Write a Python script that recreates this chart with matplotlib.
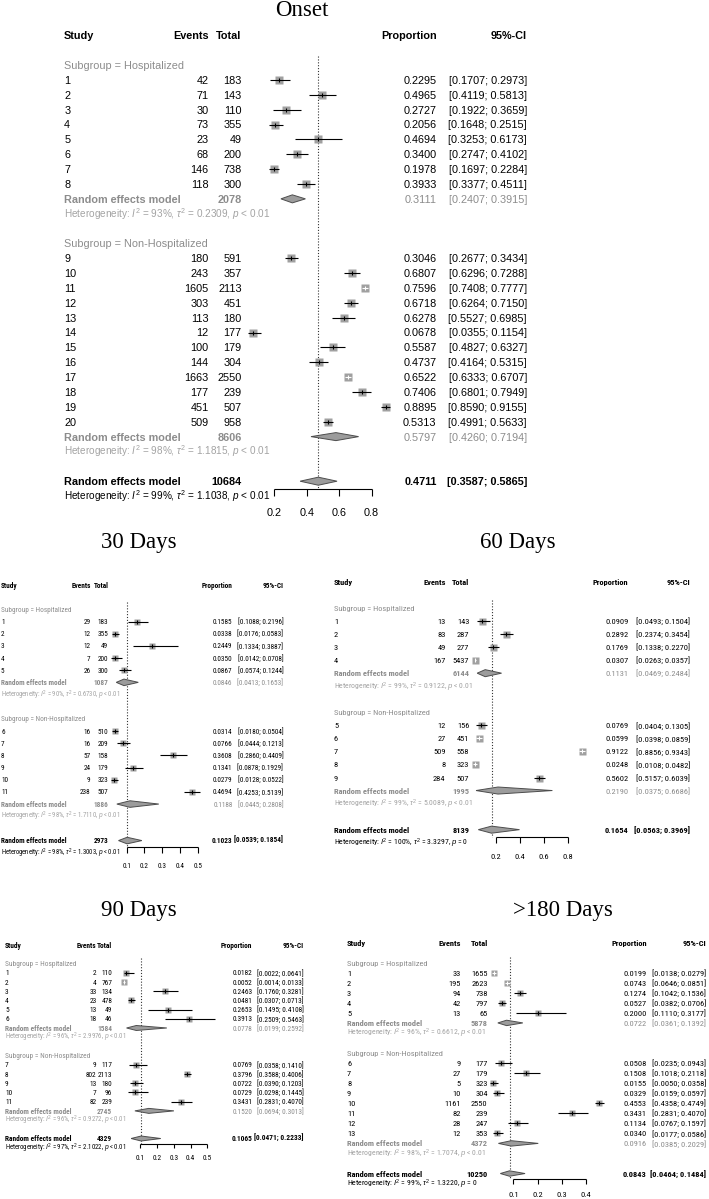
import matplotlib
matplotlib.use('Agg')
import matplotlib.pyplot as plt
import matplotlib.transforms as mtransforms
from matplotlib.patches import Polygon
from matplotlib import font_manager as fm

W, H, DPI = 709, 1199, 100

# ---------------- fonts ----------------
_avail = {}
for _f in fm.fontManager.ttflist:
    _avail.setdefault(_f.name, set()).add(_f.weight if isinstance(_f.weight, int) else 400)


def _pick(cands):
    for c in cands:
        if c in _avail and max(_avail[c]) >= 600:
            return c
    return 'Liberation Sans'


SANS_TOP = 'Liberation Sans'
SANS_LOW = _pick(['Roboto Condensed', 'Encode Sans Condensed', 'Asap Condensed', 'Liberation Sans'])
SERIF = 'Liberation Serif'
plt.rcParams['mathtext.fontset'] = 'custom'
plt.rcParams['mathtext.rm'] = 'Liberation Sans'
plt.rcParams['mathtext.it'] = 'Liberation Sans:italic'
plt.rcParams['mathtext.bf'] = 'Liberation Sans:bold'

# ---------------- DATA ----------------
# Onset
on_h_events = [42, 71, 30, 73, 23, 68, 146, 118]
on_h_total = [183, 143, 110, 355, 49, 200, 738, 300]
on_h_prop = [0.2295, 0.4965, 0.2727, 0.2056, 0.4694, 0.3400, 0.1978, 0.3933]
on_h_lo = [0.1707, 0.4119, 0.1922, 0.1648, 0.3253, 0.2747, 0.1697, 0.3377]
on_h_hi = [0.2973, 0.5813, 0.3659, 0.2515, 0.6173, 0.4102, 0.2284, 0.4511]
on_h_re = [2078, 0.3111, 0.2407, 0.3915]
on_h_het = [93, 0.2309, '< 0.01']
on_n_events = [180, 243, 1605, 303, 113, 12, 100, 144, 1663, 177, 451, 509]
on_n_total = [591, 357, 2113, 451, 180, 177, 179, 304, 2550, 239, 507, 958]
on_n_prop = [0.3046, 0.6807, 0.7596, 0.6718, 0.6278, 0.0678, 0.5587, 0.4737, 0.6522, 0.7406, 0.8895, 0.5313]
on_n_lo = [0.2677, 0.6296, 0.7408, 0.6264, 0.5527, 0.0355, 0.4827, 0.4164, 0.6333, 0.6801, 0.8590, 0.4991]
on_n_hi = [0.3434, 0.7288, 0.7777, 0.7150, 0.6985, 0.1154, 0.6327, 0.5315, 0.6707, 0.7949, 0.9155, 0.5633]
on_n_re = [8606, 0.5797, 0.4260, 0.7194]
on_n_het = [98, 1.1815, '< 0.01']
on_all_re = [10684, 0.4711, 0.3587, 0.5865]
on_all_het = [99, 1.1038, '< 0.01']
on_ticks = [0.2, 0.4, 0.6, 0.8]

# 30 Days
d30_h_events = [29, 12, 12, 7, 26]
d30_h_total = [183, 355, 49, 200, 300]
d30_h_prop = [0.1585, 0.0338, 0.2449, 0.0350, 0.0867]
d30_h_lo = [0.1088, 0.0176, 0.1334, 0.0142, 0.0574]
d30_h_hi = [0.2196, 0.0583, 0.3887, 0.0708, 0.1244]
d30_h_re = [1087, 0.0846, 0.0413, 0.1653]
d30_h_het = [90, 0.6730, '< 0.01']
d30_n_events = [16, 16, 57, 24, 9, 238]
d30_n_total = [510, 209, 158, 179, 323, 507]
d30_n_prop = [0.0314, 0.0766, 0.3608, 0.1341, 0.0279, 0.4694]
d30_n_lo = [0.0180, 0.0444, 0.2860, 0.0878, 0.0128, 0.4253]
d30_n_hi = [0.0504, 0.1213, 0.4409, 0.1929, 0.0522, 0.5139]
d30_n_re = [1886, 0.1188, 0.0445, 0.2808]
d30_n_het = [98, 1.7110, '< 0.01']
d30_all_re = [2973, 0.1023, 0.0539, 0.1854]
d30_all_het = [98, 1.3003, '< 0.01']
d30_ticks = [0.1, 0.2, 0.3, 0.4, 0.5]

# 60 Days
d60_h_events = [13, 83, 49, 167]
d60_h_total = [143, 287, 277, 5437]
d60_h_prop = [0.0909, 0.2892, 0.1769, 0.0307]
d60_h_lo = [0.0493, 0.2374, 0.1338, 0.0263]
d60_h_hi = [0.1504, 0.3454, 0.2270, 0.0357]
d60_h_re = [6144, 0.1131, 0.0469, 0.2484]
d60_h_het = [99, 0.9122, '< 0.01']
d60_n_events = [12, 27, 509, 8, 284]
d60_n_total = [156, 451, 558, 323, 507]
d60_n_prop = [0.0769, 0.0599, 0.9122, 0.0248, 0.5602]
d60_n_lo = [0.0404, 0.0398, 0.8856, 0.0108, 0.5157]
d60_n_hi = [0.1305, 0.0859, 0.9343, 0.0482, 0.6039]
d60_n_re = [1995, 0.2190, 0.0375, 0.6686]
d60_n_het = [99, 5.0089, '< 0.01']
d60_all_re = [8139, 0.1654, 0.0563, 0.3969]
d60_all_het = [100, 3.3297, '= 0']
d60_ticks = [0.2, 0.4, 0.6, 0.8]

# 90 Days
d90_h_events = [2, 4, 33, 23, 13, 18]
d90_h_total = [110, 767, 134, 478, 49, 46]
d90_h_prop = [0.0182, 0.0052, 0.2463, 0.0481, 0.2653, 0.3913]
d90_h_lo = [0.0022, 0.0014, 0.1760, 0.0307, 0.1495, 0.2509]
d90_h_hi = [0.0641, 0.0133, 0.3281, 0.0713, 0.4108, 0.5463]
d90_h_re = [1584, 0.0778, 0.0199, 0.2592]
d90_h_het = [96, 2.9976, '< 0.01']
d90_n_events = [9, 802, 13, 7, 82]
d90_n_total = [117, 2113, 180, 96, 239]
d90_n_prop = [0.0769, 0.3796, 0.0722, 0.0729, 0.3431]
d90_n_lo = [0.0358, 0.3588, 0.0390, 0.0298, 0.2831]
d90_n_hi = [0.1410, 0.4006, 0.1203, 0.1445, 0.4070]
d90_n_re = [2745, 0.1520, 0.0694, 0.3013]
d90_n_het = [96, 0.9272, '< 0.01']
d90_all_re = [4329, 0.1065, 0.0471, 0.2233]
d90_all_het = [97, 2.1022, '< 0.01']
d90_ticks = [0.1, 0.2, 0.3, 0.4, 0.5]

# >180 Days
d180_h_events = [33, 195, 94, 42, 13]
d180_h_total = [1655, 2623, 738, 797, 65]
d180_h_prop = [0.0199, 0.0743, 0.1274, 0.0527, 0.2000]
d180_h_lo = [0.0138, 0.0646, 0.1042, 0.0382, 0.1110]
d180_h_hi = [0.0279, 0.0851, 0.1536, 0.0706, 0.3177]
d180_h_re = [5878, 0.0722, 0.0361, 0.1392]
d180_h_het = [96, 0.6612, '< 0.01']
d180_n_events = [9, 27, 5, 10, 1161, 82, 28, 12]
d180_n_total = [177, 179, 323, 304, 2550, 239, 247, 353]
d180_n_prop = [0.0508, 0.1508, 0.0155, 0.0329, 0.4553, 0.3431, 0.1134, 0.0340]
d180_n_lo = [0.0235, 0.1018, 0.0050, 0.0159, 0.4358, 0.2831, 0.0767, 0.0177]
d180_n_hi = [0.0943, 0.2118, 0.0358, 0.0597, 0.4749, 0.4070, 0.1597, 0.0586]
d180_n_re = [4372, 0.0916, 0.0385, 0.2029]
d180_n_het = [98, 1.7074, '< 0.01']
d180_all_re = [10250, 0.0843, 0.0464, 0.1484]
d180_all_het = [99, 1.3220, '= 0']
d180_ticks = [0.1, 0.2, 0.3, 0.4]

panel_titles = ['Onset', '30 Days', '60 Days', '90 Days', '>180 Days']
group_labels = ['Subgroup = Hospitalized', 'Subgroup = Non-Hospitalized']
headers = ['Study', 'Events', 'Total', 'Proportion', '95%-CI']

panels_data = [
    (on_h_events, on_h_total, on_h_prop, on_h_lo, on_h_hi, on_h_re, on_h_het,
     on_n_events, on_n_total, on_n_prop, on_n_lo, on_n_hi, on_n_re, on_n_het,
     on_all_re, on_all_het, on_ticks),
    (d30_h_events, d30_h_total, d30_h_prop, d30_h_lo, d30_h_hi, d30_h_re, d30_h_het,
     d30_n_events, d30_n_total, d30_n_prop, d30_n_lo, d30_n_hi, d30_n_re, d30_n_het,
     d30_all_re, d30_all_het, d30_ticks),
    (d60_h_events, d60_h_total, d60_h_prop, d60_h_lo, d60_h_hi, d60_h_re, d60_h_het,
     d60_n_events, d60_n_total, d60_n_prop, d60_n_lo, d60_n_hi, d60_n_re, d60_n_het,
     d60_all_re, d60_all_het, d60_ticks),
    (d90_h_events, d90_h_total, d90_h_prop, d90_h_lo, d90_h_hi, d90_h_re, d90_h_het,
     d90_n_events, d90_n_total, d90_n_prop, d90_n_lo, d90_n_hi, d90_n_re, d90_n_het,
     d90_all_re, d90_all_het, d90_ticks),
    (d180_h_events, d180_h_total, d180_h_prop, d180_h_lo, d180_h_hi, d180_h_re, d180_h_het,
     d180_n_events, d180_n_total, d180_n_prop, d180_n_lo, d180_n_hi, d180_n_re, d180_n_het,
     d180_all_re, d180_all_het, d180_ticks),
]

# ---------------- LAYOUT (pixels) ----------------
# ciw: target pixel width of a CI string; font size is derived from it
layouts = [
    dict(tx=302, tb=16.5, zero=241.9, unit=162.2, y0=35.4, dy=14.86, font=SANS_TOP,
         study=64.2, ev=208.7, tot=241.7, prop=436.5, ci=527.0, ciw=78.0, sq=8.8),
    dict(tx=139.2, tb=548.5, zero=108.95, unit=177.5, y0=585.0, dy=12.17, font=SANS_LOW,
         study=1, ev=90.7, tot=108.3, prop=232.5, ci=283.3, ciw=45.5, sq=5.6),
    dict(tx=517.5, tb=548.5, zero=471.5, unit=121.0, y0=581.9, dy=13.04, font=SANS_LOW,
         study=334, ev=445.5, tot=469.3, prop=628.3, ci=690.0, ciw=53.0, sq=7.0),
    dict(tx=139.0, tb=916.0, zero=123.2, unit=168.3, y0=945.1, dy=9.21, font=SANS_LOW,
         study=5, ev=96.5, tot=112.3, prop=252.3, ci=303.5, ciw=46.5, sq=6.0),
    dict(tx=563.0, tb=916.0, zero=489.1, unit=242.3, y0=942.6, dy=10.04, font=SANS_LOW,
         study=347, ev=461.0, tot=487.7, prop=646.7, ci=706.0, ciw=53.0, sq=6.5),
]

GRAY = '#8c8c8c'
HETGRAY = '#a3a3a3'
SQCOL = '#a0a0a0'
DFILL = '#9c9c9c'
DEDGE = '#4d4d4d'

fig = plt.figure(figsize=(W / DPI, H / DPI), dpi=DPI)
fig.patch.set_facecolor('white')
_renderer = fig.canvas.get_renderer()


def font_size_for(font, target_px):
    t = fig.text(0, 0, '[0.1088; 0.2196]', family=font, fontsize=10)
    w = t.get_window_extent(_renderer).width
    t.remove()
    return 10.0 * target_px / w


def het_str(het):
    i2, tau2, p = het
    return rf'Heterogeneity: $I^2$ = {i2}%, $\tau^2$ = {tau2:.4f}, $p$ {p}'


def draw_panel(title, data, L):
    (he, ht, hp, hl, hh, hre, hhet, ne, nt, npp, nl, nh, nre, nhet, are, ahet, ticks) = data
    nH, nN = len(he), len(ne)
    dy, y0 = L['dy'], L['y0']
    font = L['font']
    fs = font_size_for(font, L['ciw'])
    em = fs / 0.72
    boff = 0.36 * em / dy
    row_h0 = 3
    row_hre = row_h0 + nH
    row_nlab = row_hre + 3
    row_n0 = row_nlab + 1
    row_nre = row_n0 + nN
    row_all = row_nre + 3
    row_axis = row_all + 0.55
    top_row, bot_row = -1.5, row_axis + 2.6
    ytop = y0 + top_row * dy
    ybot = y0 + bot_row * dy
    ax = fig.add_axes([0, 1 - ybot / H, 1, (ybot - ytop) / H])
    ax.set_xlim((0 - L['zero']) / L['unit'], (W - L['zero']) / L['unit'])
    ax.set_ylim(bot_row, top_row)
    ax.axis('off')
    tr = mtransforms.blended_transform_factory(ax.transAxes, ax.transData)

    def T(xpx, row, s, ha='left', color='black', weight='normal', size=None):
        ax.text(xpx / W, row + boff, s, transform=tr, ha=ha, va='baseline',
                fontsize=size if size else fs, family=font, color=color,
                fontweight=weight, clip_on=False)

    fig.text(L['tx'] / W, 1 - L['tb'] / H, title, ha='center', va='baseline',
             family=SERIF, fontsize=16.5)
    T(L['study'], 0, headers[0], weight='bold')
    T(L['ev'], 0, headers[1], ha='right', weight='bold')
    T(L['tot'], 0, headers[2], ha='right', weight='bold')
    T(L['prop'], 0, headers[3], ha='right', weight='bold')
    T(L['ci'], 0, headers[4], ha='right', weight='bold')

    sq_pt = L['sq'] * 0.72
    sq_val = L['sq'] / L['unit']

    def studies(r0, start_id, ev, tot, pr, lo, hi):
        for i in range(len(ev)):
            r = r0 + i
            T(L['study'], r, str(start_id + i))
            T(L['ev'], r, str(ev[i]), ha='right')
            T(L['tot'], r, str(tot[i]), ha='right')
            T(L['prop'], r, f'{pr[i]:.4f}', ha='right')
            T(L['ci'], r, f'[{lo[i]:.4f}; {hi[i]:.4f}]', ha='right')
            ax.plot(pr[i], r, marker='s', ms=sq_pt, color=SQCOL, mec='none',
                    zorder=2, clip_on=False)
            lc = 'white' if (hi[i] - lo[i]) < sq_val else 'black'
            ax.hlines(r, lo[i], hi[i], color=lc, lw=0.8, zorder=3, clip_on=False)
            ax.plot(pr[i], r, marker='|', ms=sq_pt * 0.55, color=lc, mew=0.8,
                    zorder=4, clip_on=False)

    def diamond(r, est, lo, hi):
        h = 0.27
        ax.add_patch(Polygon([(lo, r), (est, r - h), (hi, r), (est, r + h)],
                             closed=True, fc=DFILL, ec=DEDGE, lw=0.7,
                             zorder=3, clip_on=False))

    def summary(r, re, het, col, hetcol, bold_est):
        T(L['study'], r, 'Random effects model', color=col, weight='bold')
        T(L['tot'], r, str(re[0]), ha='right', color=col, weight='bold')
        w = 'bold' if bold_est else 'normal'
        T(L['prop'], r, f'{re[1]:.4f}', ha='right', color=col, weight=w)
        T(L['ci'], r, f'[{re[2]:.4f}; {re[3]:.4f}]', ha='right', color=col, weight=w)
        T(L['study'], r + 1, het_str(het), color=hetcol, size=fs * 0.92)
        diamond(r, re[1], re[2], re[3])

    T(L['study'], 2, group_labels[0], color=GRAY)
    studies(row_h0, 1, he, ht, hp, hl, hh)
    summary(row_hre, hre, hhet, GRAY, HETGRAY, False)
    T(L['study'], row_nlab, group_labels[1], color=GRAY)
    studies(row_n0, nH + 1, ne, nt, npp, nl, nh)
    summary(row_nre, nre, nhet, GRAY, HETGRAY, False)
    summary(row_all, are, ahet, 'black', 'black', True)

    ax.vlines(are[1], 1.4, row_axis, colors='#333333', lw=0.8,
              linestyles=(0, (1, 1.6)), zorder=1, clip_on=False)
    ax.hlines(row_axis, ticks[0], ticks[-1], colors='black', lw=0.8, clip_on=False)
    ax.vlines(ticks, row_axis, row_axis + 0.45, colors='black', lw=0.8, clip_on=False)
    for t in ticks:
        ax.text(t, row_axis + 1.5 + boff, f'{t:g}', ha='center', va='baseline',
                fontsize=fs, family=font, clip_on=False)


for title, data, L in zip(panel_titles, panels_data, layouts):
    draw_panel(title, data, L)

fig.savefig('out.png', dpi=DPI, facecolor='white')
